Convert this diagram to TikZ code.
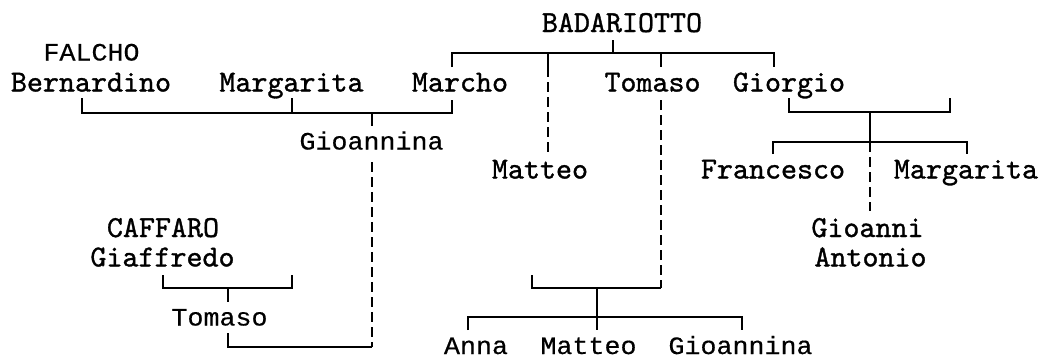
\documentclass[tikz,border=0pt]{standalone}
\usepackage{fontspec}
\newfontfamily\sansmono{Liberation Mono}[FakeStretch=1.067,FakeBold=0.4]
\newfontfamily\sermono{lmmono10-regular.otf}[FakeBold=1.1]
\begin{document}
\begin{tikzpicture}[x=1pt,y=-1pt,
  ser/.style={font=\sermono\fontsize{30.5}{30}\selectfont, anchor=base, inner sep=0pt},
  san/.style={font=\sansmono\fontsize{25}{25}\selectfont, anchor=base, inner sep=0pt},
  ln/.style={line width=1.5pt, line cap=butt, line join=miter},
  dsh/.style={line width=1.5pt, dash pattern=on 10pt off 5pt}]
\useasboundingbox (0,0) rectangle (1041,357);
% names
\node[ser] (badariotto) at (622,32) {BADARIOTTO};
\node[san] (falcho) at (91.5,60.5) {FALCHO};
\node[ser] (bernardino) at (91,91.5) {Bernardino};
\node[ser] (margarita1) at (291.5,91.5) {Margarita};
\node[ser] (marcho) at (460,91.5) {Marcho};
\node[ser] (tomaso1) at (652.5,91.5) {Tomaso};
\node[ser] (giorgio) at (789,91.5) {Giorgio};
\node[san] (gioannina1) at (371.5,149.5) {Gioannina};
\node[ser] (matteo1) at (540,178.5) {Matteo};
\node[ser] (francesco) at (773,178.5) {Francesco};
\node[ser] (margarita2) at (966,178.5) {Margarita};
\node[ser] (gioanni) at (867.5,237) {Gioanni};
\node[ser] (antonio) at (870.5,266.4) {Antonio};
\node[ser] (caffaro) at (163,237) {CAFFARO};
\node[ser] (giaffredo) at (162.5,266.4) {Giaffredo};
\node[san] (tomaso2) at (219.5,325.5) {Tomaso};
\node[san] (anna) at (476,354) {Anna};
\node[san] (matteo2) at (588.5,354) {Matteo};
\node[san] (gioannina2) at (740.5,354) {Gioannina};
% junction points
\coordinate (bt) at (613,40);
\coordinate (bb) at (613,53);
\coordinate (bl) at (452,53);
\coordinate (br) at (774,53);
\coordinate (bm1) at (548,53);
\coordinate (bm2) at (661,53);
\coordinate (marchoT) at (452,67);
\coordinate (matteoT) at (548,67);
\coordinate (matteoB) at (548,153);
\coordinate (tomasoT) at (661,67);
\coordinate (giorgioT) at (774,67);
% Falcho–Badariotto marriage
\coordinate (berB) at (82,98);
\coordinate (berC) at (82,113);
\coordinate (marB) at (452,100);
\coordinate (marC) at (452,113);
\coordinate (mgB) at (292,98);
\coordinate (mgC) at (292,113);
\coordinate (gjT) at (372,113);
\coordinate (gjB) at (372,126);
\coordinate (gdT) at (372,162);
\coordinate (gdB) at (372,347);
\coordinate (tbC) at (228,347);
\coordinate (tbT) at (228,333);
% Caffaro
\coordinate (gfL) at (163,275);
\coordinate (gfLc) at (163,288);
\coordinate (gfR) at (292,275);
\coordinate (gfRc) at (292,288);
\coordinate (tmT) at (228,288);
\coordinate (tmB) at (228,302);
% Tomaso line
\coordinate (tdT) at (661,100);
\coordinate (tdB) at (661,288);
\coordinate (spL) at (532,275);
\coordinate (spLc) at (532,288);
\coordinate (chT) at (597,288);
\coordinate (chB) at (597,330);
\coordinate (chL) at (468,317);
\coordinate (chR) at (742,317);
\coordinate (annaT) at (468,330);
\coordinate (gnT) at (742,330);
% Giorgio line
\coordinate (ggL) at (789,98);
\coordinate (ggLc) at (789,112);
\coordinate (ggR) at (950,98);
\coordinate (ggRc) at (950,112);
\coordinate (ggM) at (870,112);
\coordinate (ggK) at (870,142);
\coordinate (kL) at (773,142);
\coordinate (kR) at (967,142);
\coordinate (kLb) at (773,154);
\coordinate (kRb) at (967,154);
\coordinate (kD) at (870,211);
% draw
\draw[ln] (bt) -- (bb);
\draw[ln] (marchoT) -- (bl) -- (br) -- (giorgioT);
\draw[ln] (bm2) -- (tomasoT);
\draw[ln] (bm1) -- (matteoT);
\draw[dsh] (matteoT) -- (matteoB);
\draw[ln] (berB) -- (berC) -- (marC) -- (marB);
\draw[ln] (mgB) -- (mgC);
\draw[ln] (gjT) -- (gjB);
\draw[dsh] (gdT) -- (gdB);
\draw[ln] (gdB) -- (tbC) -- (tbT);
\draw[ln] (gfL) -- (gfLc) -- (gfRc) -- (gfR);
\draw[ln] (tmT) -- (tmB);
\draw[dsh] (tdT) -- (tdB);
\draw[ln] (spL) -- (spLc) -- (tdB);
\draw[ln] (chT) -- (chB);
\draw[ln] (annaT) -- (chL) -- (chR) -- (gnT);
\draw[ln] (ggL) -- (ggLc) -- (ggRc) -- (ggR);
\draw[ln] (ggM) -- (ggK);
\draw[ln] (kLb) -- (kL) -- (kR) -- (kRb);
\draw[dsh] (ggK) -- (kD);
\end{tikzpicture}
\end{document}
